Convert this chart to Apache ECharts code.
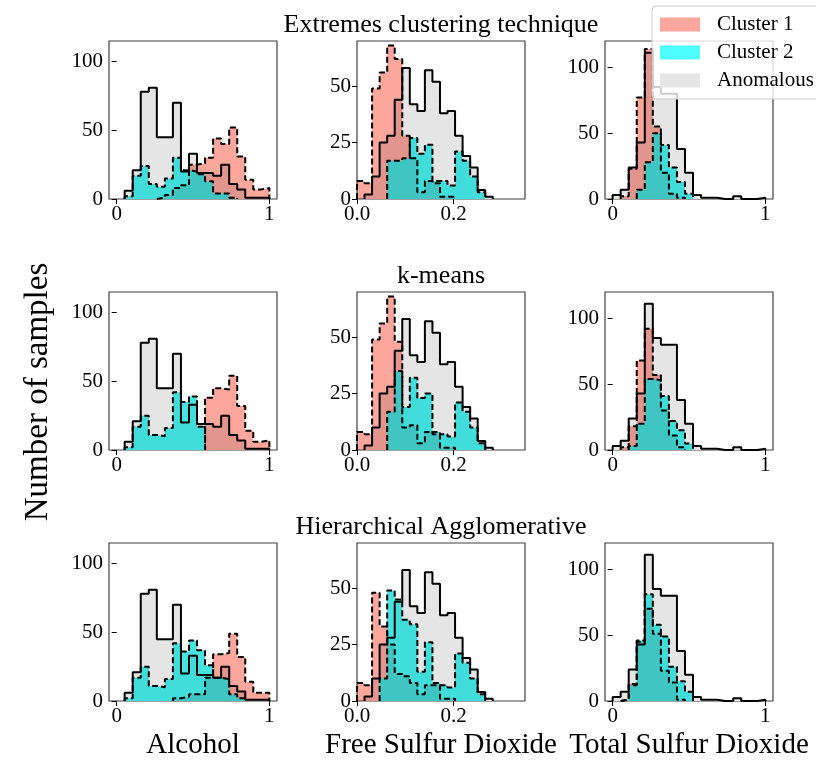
<!DOCTYPE html>
<html>
<head>
<meta charset="utf-8">
<script src="https://cdn.jsdelivr.net/npm/echarts@6.0.0/dist/echarts.min.js"></script>
<style>
html,body{margin:0;padding:0;background:#fff;}
#chart{width:816px;height:760px;}
</style>
</head>
<body>
<div id="chart"></div>
<script>
// ---------------- data ----------------
const rowTitles = ['Extremes clustering technique', 'k-means', 'Hierarchical Agglomerative'];
const featureNames = ['Alcohol', 'Free Sulfur Dioxide', 'Total Sulfur Dioxide'];
const seriesNames = ['Cluster 1', 'Cluster 2', 'Anomalous'];

// bin widths (bins start at 0)
const alcoholBinWidth = 1 / 19;
const freeSulfurBinWidth = 1 / 64;
const totalSulfurBinWidth = 1 / 19;

// Alcohol counts per bin
const alcoholAnomalous = [0, 6, 21, 78, 81, 45, 45, 70, 20, 33, 19, 19, 17, 25, 11, 7, 1, 1, 1];
const alcoholC1Extremes = [0, 0, 0, 0, 0, 1, 3, 8, 10, 25, 26, 30, 44, 40, 52, 31, 14, 7, 8];
const alcoholC2Extremes = [0, 2, 17, 24, 11, 9, 15, 30, 21, 20, 18, 13, 4, 4, 1, 0, 0, 0, 0];
const alcoholC1Kmeans = [0, 0, 0, 0, 0, 0, 0, 0, 0, 0, 0, 38, 45, 44, 54, 32, 14, 6, 7];
const alcoholC2Kmeans = [0, 2, 17, 25, 11, 10, 16, 42, 35, 39, 17, 0, 0, 0, 0, 0, 0, 0, 0];
const alcoholC1Hier = [0, 0, 0, 0, 0, 0, 0, 2, 3, 5, 5, 17, 34, 35, 49, 32, 14, 6, 6];
const alcoholC2Hier = [0, 2, 17, 25, 11, 10, 16, 42, 36, 44, 37, 26, 17, 16, 5, 2, 0, 0, 0];

// Free sulfur dioxide counts per bin
const freeSulfurAnomalous = [0, 2, 10, 25, 28, 44, 58, 42, 39, 57, 52, 38, 39, 28, 19, 14, 4, 1, 0, 0];
const freeSulfurC1Extremes = [8, 7, 49, 56, 68, 62, 28, 18, 3, 8, 7, 1, 1, 0, 0, 0, 0, 0, 0, 0];
const freeSulfurC2Extremes = [0, 0, 0, 0, 17, 17, 18, 27, 20, 24, 8, 8, 6, 21, 17, 10, 3, 0, 0, 0];
const freeSulfurC1Kmeans = [8, 7, 49, 56, 68, 48, 10, 11, 3, 8, 7, 1, 1, 0, 0, 0, 0, 0, 0, 0];
const freeSulfurC2Kmeans = [0, 0, 0, 0, 17, 35, 19, 32, 23, 25, 8, 7, 6, 21, 17, 10, 3, 0, 0, 0];
const freeSulfurC1Hier = [8, 7, 48, 33, 25, 12, 11, 8, 3, 7, 7, 1, 1, 0, 0, 0, 0, 0, 0, 0];
const freeSulfurC2Hier = [0, 0, 0, 10, 49, 45, 36, 34, 13, 26, 8, 7, 6, 21, 17, 10, 3, 0, 0, 0];

// Total sulfur dioxide counts per bin
const totalSulfurAnomalous = [3, 7, 24, 43, 111, 85, 80, 80, 38, 20, 3, 1, 1, 0, 0, 2, 0, 0, 1];
const totalSulfurC1Extremes = [0, 2, 23, 77, 114, 55, 20, 4, 1, 0, 0, 0, 0, 0, 0, 0, 0, 0, 0];
const totalSulfurC2Extremes = [0, 0, 0, 7, 28, 50, 41, 24, 13, 4, 0, 0, 0, 0, 0, 0, 0, 0, 0];
const totalSulfurC1Kmeans = [0, 2, 18, 68, 92, 57, 30, 11, 2, 0, 0, 0, 0, 0, 0, 0, 0, 0, 0];
const totalSulfurC2Kmeans = [0, 0, 3, 20, 54, 53, 41, 22, 15, 5, 0, 0, 0, 0, 0, 0, 0, 0, 0];
const totalSulfurC1Hier = [0, 1, 13, 45, 70, 51, 23, 14, 1, 0, 0, 0, 0, 0, 0, 0, 0, 0, 0];
const totalSulfurC2Hier = [0, 1, 12, 46, 81, 58, 49, 26, 15, 7, 0, 0, 0, 0, 0, 0, 0, 0, 0];

// axis ticks
const alcoholXTicks = [0, 1];
const freeSulfurXTicks = [0, 0.2];
const totalSulfurXTicks = [0, 1];
const alcoholYTicks = [0, 50, 100];
const freeSulfurYTicks = [0, 25, 50];
const totalSulfurYTicks = [0, 50, 100];

// ---------------- assembly ----------------
const panels = [
  [ // row 0: extremes
    {w: alcoholBinWidth, c1: alcoholC1Extremes, c2: alcoholC2Extremes, an: alcoholAnomalous},
    {w: freeSulfurBinWidth, c1: freeSulfurC1Extremes, c2: freeSulfurC2Extremes, an: freeSulfurAnomalous},
    {w: totalSulfurBinWidth, c1: totalSulfurC1Extremes, c2: totalSulfurC2Extremes, an: totalSulfurAnomalous}
  ],
  [ // row 1: k-means
    {w: alcoholBinWidth, c1: alcoholC1Kmeans, c2: alcoholC2Kmeans, an: alcoholAnomalous},
    {w: freeSulfurBinWidth, c1: freeSulfurC1Kmeans, c2: freeSulfurC2Kmeans, an: freeSulfurAnomalous},
    {w: totalSulfurBinWidth, c1: totalSulfurC1Kmeans, c2: totalSulfurC2Kmeans, an: totalSulfurAnomalous}
  ],
  [ // row 2: hierarchical
    {w: alcoholBinWidth, c1: alcoholC1Hier, c2: alcoholC2Hier, an: alcoholAnomalous},
    {w: freeSulfurBinWidth, c1: freeSulfurC1Hier, c2: freeSulfurC2Hier, an: freeSulfurAnomalous},
    {w: totalSulfurBinWidth, c1: totalSulfurC1Hier, c2: totalSulfurC2Hier, an: totalSulfurAnomalous}
  ]
];

const colAxes = [
  {xmin: -0.05, xmax: 1.05, xticks: alcoholXTicks, ymax: 115, yticks: alcoholYTicks, fmt: v => String(v)},
  {xmin: 0, xmax: 0.348, xticks: freeSulfurXTicks, ymax: 70, yticks: freeSulfurYTicks, fmt: v => Number(v).toFixed(1)},
  {xmin: -0.05, xmax: 1.05, xticks: totalSulfurXTicks, ymax: 120, yticks: totalSulfurYTicks, fmt: v => String(v)}
];

const colLeft = [109, 357, 605];
const rowTop = [41, 292, 543];
const PW = 168, PH = 158;
const FONT = '"Liberation Serif", "DejaVu Serif", serif';

function histPoints(counts, width) {
  let first = 0, last = counts.length - 1;
  while (first < last && counts[first] === 0) first++;
  while (last > first && counts[last] === 0) last--;
  const pts = [[first * width, 0]];
  for (let i = first; i <= last; i++) pts.push([i * width, counts[i]]);
  pts.push([(last + 1) * width, 0]);
  return pts;
}

const grid = [], xAxis = [], yAxis = [], series = [];
const styles = {
  'Cluster 1': {fill: '#fca69c', blend: 'multiply', dash: [6, 3]},
  'Cluster 2': {fill: 'rgba(0,218,215,0.72)', blend: null, dash: [6, 3]},
  'Anomalous': {fill: '#e5e5e5', blend: null, dash: 'solid'}
};

for (let r = 0; r < 3; r++) {
  for (let c = 0; c < 3; c++) {
    const idx = r * 3 + c;
    const ax = colAxes[c];
    grid.push({left: colLeft[c], top: rowTop[r], width: PW, height: PH,
      show: true, borderColor: '#404040', borderWidth: 1.2, backgroundColor: 'transparent'});
    xAxis.push({type: 'value', gridIndex: idx, min: ax.xmin, max: ax.xmax,
      axisLine: {show: false}, splitLine: {show: false},
      axisTick: {show: true, length: 5, lineStyle: {color: '#000', width: 1}, customValues: ax.xticks},
      axisLabel: {customValues: ax.xticks, formatter: ax.fmt, fontFamily: FONT, fontSize: 21, color: '#000', margin: 5}});
    yAxis.push({type: 'value', gridIndex: idx, min: 0, max: ax.ymax,
      axisLine: {show: false}, splitLine: {show: false},
      axisTick: {show: true, length: 5, lineStyle: {color: '#000', width: 1}, customValues: ax.yticks},
      axisLabel: {customValues: ax.yticks, fontFamily: FONT, fontSize: 21, color: '#000', margin: 6}});
    const p = panels[r][c];
    const order = [['Anomalous', p.an], ['Cluster 1', p.c1], ['Cluster 2', p.c2]];
    // fills
    order.forEach(([name, counts]) => {
      const st = styles[name];
      const s = {
        name: name, type: 'line', xAxisIndex: idx, yAxisIndex: idx,
        data: histPoints(counts, p.w), step: 'end', showSymbol: false, symbol: 'none',
        lineStyle: {width: 0, opacity: 0}, areaStyle: {color: st.fill, opacity: 1},
        z: 2, silent: true, animation: false
      };
      if (st.blend) s.blendMode = st.blend;
      series.push(s);
    });
    // outlines
    order.forEach(([name, counts]) => {
      const st = styles[name];
      series.push({
        name: name, type: 'line', xAxisIndex: idx, yAxisIndex: idx,
        data: histPoints(counts, p.w), step: 'end', showSymbol: false, symbol: 'none',
        lineStyle: {color: '#000', width: 2, type: st.dash},
        z: 3, silent: true, animation: false
      });
    });
  }
}

const graphic = [];
rowTitles.forEach((t, r) => {
  graphic.push({type: 'text', x: colLeft[1] + PW / 2, y: rowTop[r] - 16,
    style: {text: t, font: '26px ' + FONT, fill: '#000', align: 'center', verticalAlign: 'middle',
      textAlign: 'center', textVerticalAlign: 'middle'}});
});
featureNames.forEach((t, c) => {
  graphic.push({type: 'text', x: colLeft[c] + PW / 2, y: 745,
    style: {text: t, font: '29px ' + FONT, fill: '#000', align: 'center', verticalAlign: 'middle',
      textAlign: 'center', textVerticalAlign: 'middle'}});
});
graphic.push({type: 'text', x: 38, y: 392, rotation: Math.PI / 2,
  style: {text: 'Number of samples', font: '33px ' + FONT, fill: '#000', align: 'center', verticalAlign: 'middle',
    textAlign: 'center', textVerticalAlign: 'middle'}});

const chart = echarts.init(document.getElementById('chart'), null, {renderer: 'canvas'});
chart.setOption({
  backgroundColor: '#ffffff',
  animation: false,
  grid, xAxis, yAxis, series, graphic,
  legend: {
    left: 652, top: 6, orient: 'vertical', z: 20,
    selectedMode: false,
    itemWidth: 40, itemHeight: 14, itemGap: 7,
    padding: [8, 10, 8, 8],
    backgroundColor: 'rgba(255,255,255,0.8)', borderColor: '#cccccc', borderWidth: 1, borderRadius: 4,
    textStyle: {fontFamily: FONT, fontSize: 21, color: '#000', padding: [0, 0, 0, 12]},
    data: [
      {name: 'Cluster 1', icon: 'rect', itemStyle: {color: '#fba69c', borderWidth: 0, opacity: 1}},
      {name: 'Cluster 2', icon: 'rect', itemStyle: {color: '#4dffff', borderWidth: 0, opacity: 1}},
      {name: 'Anomalous', icon: 'rect', itemStyle: {color: '#e5e5e5', borderWidth: 0, opacity: 1}}
    ]
  }
});
</script>
</body>
</html>
